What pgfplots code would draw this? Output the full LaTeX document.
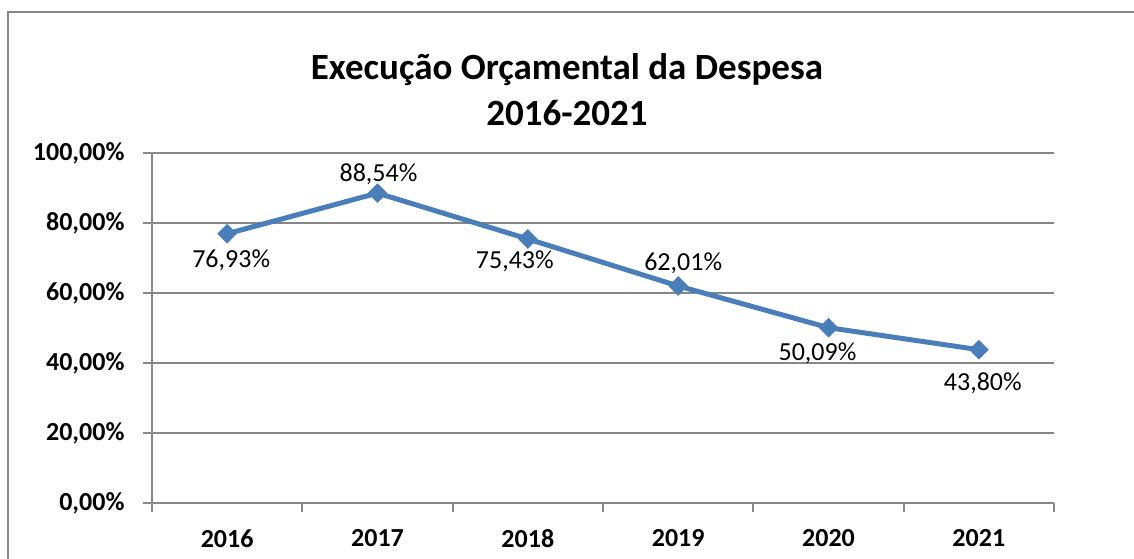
\documentclass[border=0pt]{standalone}
\usepackage{fontspec}
\setmainfont{Carlito}
\usepackage{pgfplots}
\pgfplotsset{compat=1.18}
\usepackage{pgfplotstable}
\definecolor{linecol}{HTML}{4A7EBB}
\definecolor{gridcol}{HTML}{878787}

\pgfplotstableread{
x y lab dx dy
0 76.93 76,93 4 -27
1 88.54 88,54 1 19
2 75.43 75,43 -13 -22
3 62.01 62,01 5 23
4 50.09 50,09 -11 -26
5 43.80 43,80 4 -34
}\data

\begin{document}
\begin{tikzpicture}[x=1bp,y=1bp]
\useasboundingbox (0,0) rectangle (1134,559);
\draw[gridcol, line width=2bp] (8,-20) -- (8,547) -- (1150,547);
\node[anchor=base, font=\bfseries\fontsize{37bp}{44bp}\selectfont] at (567,479) {Execução Orçamental da Despesa};
\node[anchor=base, font=\bfseries\fontsize{37bp}{44bp}\selectfont] at (567,433) {2016-2021};
\begin{axis}[
  at={(152bp,56bp)}, anchor=south west,
  scale only axis, width=902bp, height=350bp,
  xmin=-0.5, xmax=5.5, ymin=0, ymax=100,
  axis x line*=bottom, axis y line*=left,
  axis line style={gridcol, line width=2bp, -},
  xtick={-0.5,0.5,...,5.5},
  x tick label as interval,
  xticklabels={2016,2017,2018,2019,2020,2021},
  ytick={0,20,...,100},
  yticklabels={{0,00\%},{20,00\%},{40,00\%},{60,00\%},{80,00\%},{100,00\%}},
  ymajorgrids,
  major grid style={gridcol, line width=2bp},
  tick align=outside,
  major tick length=9bp,
  tick style={gridcol, line width=2bp},
  ticklabel style={font=\bfseries\fontsize{26bp}{30bp}\selectfont, black},
  xticklabel style={yshift=-14bp},
  yticklabel style={xshift=-15bp},
  /pgf/number format/assume math mode=true,
  clip=false,
]
\addplot[linecol, line width=5bp,
  mark=square*, mark size=6.7bp,
  mark options={rotate=45, solid, line width=0.5bp, fill=linecol},
  nodes near coords={\pgfplotspointmeta\%},
  point meta=explicit symbolic,
  visualization depends on={\thisrow{dx} \as \dx},
  visualization depends on={\thisrow{dy} \as \dy},
  every node near coord/.append style={anchor=center, xshift=\dx bp, yshift=\dy bp,
    black, font=\fontsize{26bp}{30bp}\selectfont},
] table[x=x, y=y, meta=lab] {\data};
\end{axis}
\end{tikzpicture}
\end{document}
